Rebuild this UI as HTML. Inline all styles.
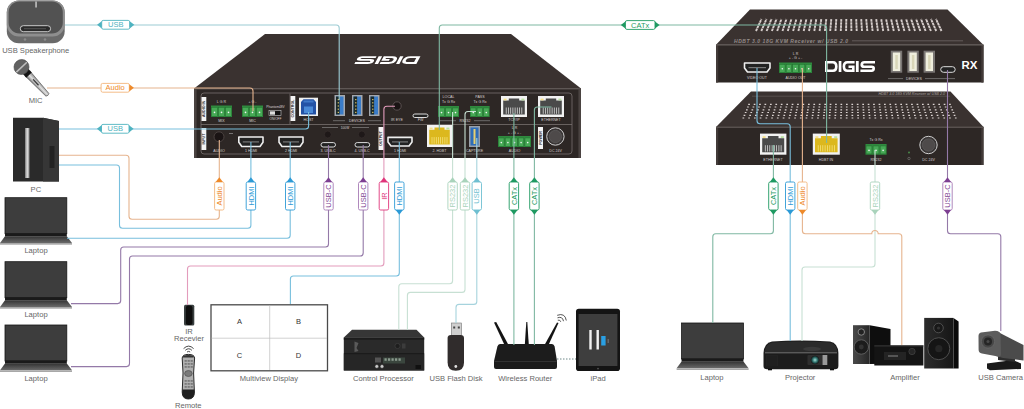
<!DOCTYPE html>
<html><head><meta charset="utf-8"><style>
html,body{margin:0;padding:0;background:#fff;width:1024px;height:409px;overflow:hidden}
svg{display:block;font-family:"Liberation Sans",sans-serif}
</style></head><body>
<svg width="1024" height="409" viewBox="0 0 1024 409">
<rect width="1024" height="409" fill="#fff"/>
<g id="tx">
<polygon points="265,34 511,34 581,88.5 194,88.5" fill="#3a3230"/>
<rect x="194" y="88.5" width="387" height="69.5" fill="#2d2725"/>
<rect x="194" y="88.2" width="387" height="1.2" fill="#5e5654"/>
<rect x="194" y="88.5" width="2.6" height="69.5" fill="#4a4341"/><rect x="578.4" y="88.5" width="2.6" height="69.5" fill="#4a4341"/>
<g transform="translate(387.4 60.05) rotate(180) skewX(-28) scale(1.24 0.7) translate(-25 -5.5)"><path d="M0 0 H8 Q12.6 0 12.6 5.5 Q12.6 11 8 11 H0 Z M2.6 2.6 H7.6 Q10 2.6 10 5.5 Q10 8.4 7.6 8.4 H2.6 Z M13.7 0 H16.4 V11 H13.7 Z M29.6 0 H22.4 Q17.6 0 17.6 5.5 Q17.6 11 22.4 11 H29.6 V4.6 H23.5 V7.0 H27 V8.4 H22.6 Q20.2 8.4 20.2 5.5 Q20.2 2.6 22.6 2.6 H29.6 Z M30.9 0 H33.7 V11 H30.9 Z M50 0 H39.4 Q35.4 0 35.4 3.9 Q35.4 7.0 39 7.0 H46.4 Q47.4 7.0 47.4 7.7 Q47.4 8.4 46.4 8.4 H35.4 V11 H46.6 Q50 11 50 7.2 Q50 4.4 46.6 4.4 H39.2 Q38.2 4.4 38.2 3.5 Q38.2 2.6 39.2 2.6 H50 Z" fill="#fff" fill-rule="evenodd"/></g>
<rect x="201" y="93" width="371" height="61" rx="3" fill="none" stroke="#77706e" stroke-width="0.8"/>
<line x1="201" y1="124.5" x2="572" y2="124.5" stroke="#77706e" stroke-width="0.8"/>
<rect x="201.5" y="97.0" width="4.8" height="24.0" fill="#f4f4f4"/>
<text transform="translate(205.2 109.0) rotate(-90)" font-size="3.6" font-weight="bold" fill="#222" text-anchor="middle">AUDIO IN</text>
<rect x="201.5" y="128.0" width="4.8" height="22.0" fill="#f4f4f4"/>
<text transform="translate(205.2 139.0) rotate(-90)" font-size="3.6" font-weight="bold" fill="#222" text-anchor="middle">INPUT</text>
<rect x="290.3" y="96.0" width="5.0" height="25.0" fill="#f4f4f4"/>
<text transform="translate(294.1 108.5) rotate(-90)" font-size="3.6" font-weight="bold" fill="#222" text-anchor="middle">CONTROL</text>
<rect x="378.5" y="127.0" width="5.0" height="23.0" fill="#f4f4f4"/>
<text transform="translate(382.3 138.5) rotate(-90)" font-size="3.6" font-weight="bold" fill="#222" text-anchor="middle">OUTPUT</text>
<rect x="538.0" y="127.0" width="5.0" height="22.0" fill="#f4f4f4"/>
<text transform="translate(541.8 138.0) rotate(-90)" font-size="3.6" font-weight="bold" fill="#222" text-anchor="middle">POWER</text>
<rect x="211.0" y="105.5" width="21.0" height="11.5" fill="#2f8a3e"/>
<rect x="211.6" y="107.5" width="5.8" height="8.7" fill="#47a956" stroke="#1f6a2c" stroke-width="0.4"/>
<circle cx="214.5" cy="112.4" r="0.8" fill="#f4f4f4"/>
<rect x="218.6" y="107.5" width="5.8" height="8.7" fill="#47a956" stroke="#1f6a2c" stroke-width="0.4"/>
<circle cx="221.5" cy="112.4" r="0.8" fill="#f4f4f4"/>
<rect x="225.6" y="107.5" width="5.8" height="8.7" fill="#47a956" stroke="#1f6a2c" stroke-width="0.4"/>
<circle cx="228.5" cy="112.4" r="0.8" fill="#f4f4f4"/>
<rect x="242.0" y="105.5" width="21.0" height="11.5" fill="#2f8a3e"/>
<rect x="242.6" y="107.5" width="5.8" height="8.7" fill="#47a956" stroke="#1f6a2c" stroke-width="0.4"/>
<circle cx="245.5" cy="112.4" r="0.8" fill="#f4f4f4"/>
<rect x="249.6" y="107.5" width="5.8" height="8.7" fill="#47a956" stroke="#1f6a2c" stroke-width="0.4"/>
<circle cx="252.5" cy="112.4" r="0.8" fill="#f4f4f4"/>
<rect x="256.6" y="107.5" width="5.8" height="8.7" fill="#47a956" stroke="#1f6a2c" stroke-width="0.4"/>
<circle cx="259.5" cy="112.4" r="0.8" fill="#f4f4f4"/>
<text x="221.5" y="103.0" font-size="3.6" fill="#d8d0d0" text-anchor="middle">L  G  R</text>
<text x="252.5" y="103.0" font-size="3.6" fill="#d8d0d0" text-anchor="middle">+  G  -</text>
<text x="221.5" y="121.5" font-size="3.6" fill="#d8d0d0" text-anchor="middle">MIX</text>
<text x="252.5" y="121.5" font-size="3.6" fill="#d8d0d0" text-anchor="middle">MIC</text>
<text x="275.5" y="108.0" font-size="3.2" fill="#d8d0d0" text-anchor="middle">Phantom48V</text>
<rect x="269" y="110.5" width="12" height="5" fill="#111" stroke="#ccc" stroke-width="0.6"/><rect x="270" y="111.3" width="5" height="3.4" fill="#ddd"/>
<text x="275.5" y="120.0" font-size="3.2" fill="#d8d0d0" text-anchor="middle">ON/OFF</text>
<rect x="299" y="97.7" width="19" height="18.3" fill="#f0f0f0"/>
<path d="M301 114.5 L301 102 L303.5 99.3 L313.5 99.3 L316 102 L316 114.5 Z" fill="#2352a6"/>
<rect x="303.5" y="100.5" width="10" height="2" fill="#3f78c8"/>
<rect x="304" y="106.5" width="9" height="6.5" fill="#4a8ad8"/>
<text x="308.5" y="121.0" font-size="3.6" fill="#d8d0d0" text-anchor="middle">HOST</text>
<line x1="290" y1="93.5" x2="290" y2="124.3" stroke="#77706e" stroke-width="0.8"/>
<rect x="334.5" y="95" width="10.5" height="21" fill="#a4a8ae"/>
<rect x="336.0" y="96.5" width="7.5" height="18" fill="#3a7cc8"/>
<rect x="336.0" y="96.5" width="3.6" height="18" fill="#1c2a2a"/>
<rect x="337.7" y="99.0" width="1.2" height="1.2" fill="#e8d070"/>
<rect x="337.7" y="102.2" width="1.2" height="1.2" fill="#e8d070"/>
<rect x="337.7" y="105.4" width="1.2" height="1.2" fill="#e8d070"/>
<rect x="337.7" y="108.6" width="1.2" height="1.2" fill="#e8d070"/>
<rect x="337.7" y="111.8" width="1.2" height="1.2" fill="#e8d070"/>
<rect x="352.0" y="95" width="10.5" height="21" fill="#a4a8ae"/>
<rect x="353.5" y="96.5" width="7.5" height="18" fill="#3a7cc8"/>
<rect x="353.5" y="96.5" width="3.6" height="18" fill="#1c2a2a"/>
<rect x="355.2" y="99.0" width="1.2" height="1.2" fill="#e8d070"/>
<rect x="355.2" y="102.2" width="1.2" height="1.2" fill="#e8d070"/>
<rect x="355.2" y="105.4" width="1.2" height="1.2" fill="#e8d070"/>
<rect x="355.2" y="108.6" width="1.2" height="1.2" fill="#e8d070"/>
<rect x="355.2" y="111.8" width="1.2" height="1.2" fill="#e8d070"/>
<rect x="369.0" y="95" width="10.5" height="21" fill="#a4a8ae"/>
<rect x="370.5" y="96.5" width="7.5" height="18" fill="#3a7cc8"/>
<rect x="370.5" y="96.5" width="3.6" height="18" fill="#1c2a2a"/>
<rect x="372.2" y="99.0" width="1.2" height="1.2" fill="#e8d070"/>
<rect x="372.2" y="102.2" width="1.2" height="1.2" fill="#e8d070"/>
<rect x="372.2" y="105.4" width="1.2" height="1.2" fill="#e8d070"/>
<rect x="372.2" y="108.6" width="1.2" height="1.2" fill="#e8d070"/>
<rect x="372.2" y="111.8" width="1.2" height="1.2" fill="#e8d070"/>
<line x1="333" y1="120.7" x2="345" y2="120.7" stroke="#aaa" stroke-width="0.5"/><line x1="368" y1="120.7" x2="381" y2="120.7" stroke="#aaa" stroke-width="0.5"/>
<text x="357.0" y="122.0" font-size="3.6" fill="#d8d0d0" text-anchor="middle">DEVICES</text>
<circle cx="397" cy="106" r="4.2" fill="#1a1414" stroke="#5a5050" stroke-width="1"/>
<text x="397.0" y="121.0" font-size="3.6" fill="#d8d0d0" text-anchor="middle">IR EYE</text>
<rect x="413.0" y="114.0" width="15.0" height="3.5" rx="1.8" fill="#222" stroke="#ddd" stroke-width="1"/>
<text x="420.5" y="121.0" font-size="3.6" fill="#d8d0d0" text-anchor="middle">FW</text>
<rect x="438.0" y="106.0" width="21.0" height="11.0" fill="#2f8a3e"/>
<rect x="438.6" y="108.0" width="5.8" height="8.2" fill="#47a956" stroke="#1f6a2c" stroke-width="0.4"/>
<circle cx="441.5" cy="112.6" r="0.8" fill="#f4f4f4"/>
<rect x="445.6" y="108.0" width="5.8" height="8.2" fill="#47a956" stroke="#1f6a2c" stroke-width="0.4"/>
<circle cx="448.5" cy="112.6" r="0.8" fill="#f4f4f4"/>
<rect x="452.6" y="108.0" width="5.8" height="8.2" fill="#47a956" stroke="#1f6a2c" stroke-width="0.4"/>
<circle cx="455.5" cy="112.6" r="0.8" fill="#f4f4f4"/>
<rect x="470.0" y="106.0" width="19.6" height="11.0" fill="#2f8a3e"/>
<rect x="470.6" y="108.0" width="5.3" height="8.2" fill="#47a956" stroke="#1f6a2c" stroke-width="0.4"/>
<circle cx="473.3" cy="112.6" r="0.8" fill="#f4f4f4"/>
<rect x="477.1" y="108.0" width="5.3" height="8.2" fill="#47a956" stroke="#1f6a2c" stroke-width="0.4"/>
<circle cx="479.8" cy="112.6" r="0.8" fill="#f4f4f4"/>
<rect x="483.7" y="108.0" width="5.3" height="8.2" fill="#47a956" stroke="#1f6a2c" stroke-width="0.4"/>
<circle cx="486.3" cy="112.6" r="0.8" fill="#f4f4f4"/>
<text x="448.5" y="98.0" font-size="3.6" fill="#d8d0d0" text-anchor="middle">LOCAL</text>
<text x="480.0" y="98.0" font-size="3.6" fill="#d8d0d0" text-anchor="middle">PASS</text>
<text x="448.5" y="103.0" font-size="3.6" fill="#d8d0d0" text-anchor="middle">Tx G Rx</text>
<text x="480.0" y="103.0" font-size="3.6" fill="#d8d0d0" text-anchor="middle">Tx G Rx</text>
<line x1="440" y1="120.7" x2="456" y2="120.7" stroke="#aaa" stroke-width="0.5"/><line x1="474" y1="120.7" x2="490" y2="120.7" stroke="#aaa" stroke-width="0.5"/>
<text x="465.0" y="122.0" font-size="3.6" fill="#d8d0d0" text-anchor="middle">RS232</text>
<rect x="501.0" y="96.0" width="26.0" height="21.0" fill="#f2f2f2"/>
<path d="M503.2 100.6 H508.8 V98.5 H519.2 V100.6 H524.8 V114.5 H503.2 V100.6 H503.2 Z" fill="#4a4a4a"/>
<rect x="505.8" y="107.5" width="0.8" height="6.3" fill="#d8d8d8"/>
<rect x="508.0" y="107.5" width="0.8" height="6.3" fill="#d8d8d8"/>
<rect x="510.3" y="107.5" width="0.8" height="6.3" fill="#d8d8d8"/>
<rect x="512.5" y="107.5" width="0.8" height="6.3" fill="#d8d8d8"/>
<rect x="514.7" y="107.5" width="0.8" height="6.3" fill="#d8d8d8"/>
<rect x="516.9" y="107.5" width="0.8" height="6.3" fill="#d8d8d8"/>
<rect x="519.2" y="107.5" width="0.8" height="6.3" fill="#d8d8d8"/>
<rect x="521.4" y="107.5" width="0.8" height="6.3" fill="#d8d8d8"/>
<rect x="503.6" y="98.6" width="3" height="1.8" fill="#f5e08a"/>
<rect x="521.4" y="98.6" width="3" height="1.8" fill="#b8e0a0"/>
<rect x="538.0" y="96.0" width="26.0" height="21.0" fill="#f2f2f2"/>
<path d="M540.2 100.6 H545.8 V98.5 H556.2 V100.6 H561.8 V114.5 H540.2 V100.6 H540.2 Z" fill="#4a4a4a"/>
<rect x="542.8" y="107.5" width="0.8" height="6.3" fill="#d8d8d8"/>
<rect x="545.0" y="107.5" width="0.8" height="6.3" fill="#d8d8d8"/>
<rect x="547.3" y="107.5" width="0.8" height="6.3" fill="#d8d8d8"/>
<rect x="549.5" y="107.5" width="0.8" height="6.3" fill="#d8d8d8"/>
<rect x="551.7" y="107.5" width="0.8" height="6.3" fill="#d8d8d8"/>
<rect x="553.9" y="107.5" width="0.8" height="6.3" fill="#d8d8d8"/>
<rect x="556.2" y="107.5" width="0.8" height="6.3" fill="#d8d8d8"/>
<rect x="558.4" y="107.5" width="0.8" height="6.3" fill="#d8d8d8"/>
<rect x="540.6" y="98.6" width="3" height="1.8" fill="#f5e08a"/>
<rect x="558.4" y="98.6" width="3" height="1.8" fill="#b8e0a0"/>
<text x="514.0" y="121.0" font-size="3.6" fill="#d8d0d0" text-anchor="middle">TCP/IP</text>
<text x="551.0" y="121.0" font-size="3.6" fill="#d8d0d0" text-anchor="middle">ETHERNET</text>
<circle cx="219" cy="136.8" r="5" fill="#1a1414" stroke="#4a4240" stroke-width="1"/>
<line x1="229" y1="133.5" x2="233" y2="133.5" stroke="#aaa" stroke-width="0.6"/>
<text x="219.0" y="151.5" font-size="3.6" fill="#d8d0d0" text-anchor="middle">AUDIO</text>
<path d="M238.8 137.0 L263.0 137.0 L263.0 142.2 L260.0 146.5 L241.8 146.5 L238.8 142.2 Z" fill="#222" stroke="#eee" stroke-width="1.6" stroke-linejoin="round"/>
<rect x="242.8" y="141.3" width="16.2" height="1.2" fill="#777"/>
<text x="251.0" y="151.5" font-size="3.6" fill="#d8d0d0" text-anchor="middle">1 HDMI</text>
<path d="M279.0 137.0 L303.0 137.0 L303.0 142.2 L300.0 146.5 L282.0 146.5 L279.0 142.2 Z" fill="#222" stroke="#eee" stroke-width="1.6" stroke-linejoin="round"/>
<rect x="283.0" y="141.3" width="16.0" height="1.2" fill="#777"/>
<text x="291.0" y="151.5" font-size="3.6" fill="#d8d0d0" text-anchor="middle">2 HDMI</text>
<circle cx="327.8" cy="134.5" r="3.5" fill="#1e1818" stroke="#3a3230" stroke-width="0.6"/>
<circle cx="361.8" cy="134.5" r="3.5" fill="#1e1818" stroke="#3a3230" stroke-width="0.6"/>
<rect x="321.0" y="142.6" width="14.5" height="4.4" rx="2.2" fill="#222" stroke="#ddd" stroke-width="1"/>
<rect x="355.0" y="142.6" width="14.7" height="4.4" rx="2.2" fill="#222" stroke="#ddd" stroke-width="1"/>
<text x="328.0" y="151.5" font-size="3.6" fill="#d8d0d0" text-anchor="middle">3. USB-C</text>
<text x="362.0" y="151.5" font-size="3.6" fill="#d8d0d0" text-anchor="middle">4. USB-C</text>
<line x1="322" y1="127.5" x2="338" y2="127.5" stroke="#aaa" stroke-width="0.5"/><line x1="352" y1="127.5" x2="369" y2="127.5" stroke="#aaa" stroke-width="0.5"/>
<text x="345.0" y="129.0" font-size="3.2" fill="#d8d0d0" text-anchor="middle">100W</text>
<path d="M388.0 137.4 L412.0 137.4 L412.0 142.1 L409.0 146.0 L391.0 146.0 L388.0 142.1 Z" fill="#222" stroke="#eee" stroke-width="1.6" stroke-linejoin="round"/>
<rect x="392.0" y="141.3" width="16.0" height="1.2" fill="#777"/>
<text x="400.0" y="151.5" font-size="3.6" fill="#d8d0d0" text-anchor="middle">1 HDMI</text>
<rect x="427.0" y="125.0" width="25.0" height="22.0" fill="#f2f2f2"/>
<path d="M429.2 129.8 H434.5 V127.5 H444.5 V129.8 H449.8 V144.5 H429.2 V129.8 H429.2 Z" fill="#dcb81e"/>
<rect x="431.6" y="137.1" width="0.8" height="6.6" fill="#f5e27a"/>
<rect x="433.7" y="137.1" width="0.8" height="6.6" fill="#f5e27a"/>
<rect x="435.9" y="137.1" width="0.8" height="6.6" fill="#f5e27a"/>
<rect x="438.0" y="137.1" width="0.8" height="6.6" fill="#f5e27a"/>
<rect x="440.2" y="137.1" width="0.8" height="6.6" fill="#f5e27a"/>
<rect x="442.3" y="137.1" width="0.8" height="6.6" fill="#f5e27a"/>
<rect x="444.5" y="137.1" width="0.8" height="6.6" fill="#f5e27a"/>
<rect x="446.6" y="137.1" width="0.8" height="6.6" fill="#f5e27a"/>
<rect x="429.6" y="127.6" width="3" height="1.8" fill="#f5e08a"/>
<rect x="446.4" y="127.6" width="3" height="1.8" fill="#b8e0a0"/>
<text x="439.5" y="151.5" font-size="3.6" fill="#d8d0d0" text-anchor="middle">2. HDBT</text>
<rect x="469" y="126" width="11" height="21" fill="#9aa0a8"/><rect x="470.5" y="127.5" width="8" height="18" fill="#2e6db8"/><rect x="473.5" y="129" width="2" height="15" fill="#e8d070"/>
<text x="474.5" y="151.5" font-size="3.6" fill="#d8d0d0" text-anchor="middle">CAPTURE</text>
<rect x="498.0" y="136.0" width="33.0" height="11.0" fill="#2f8a3e"/>
<rect x="498.6" y="138.0" width="5.4" height="8.2" fill="#47a956" stroke="#1f6a2c" stroke-width="0.4"/>
<circle cx="501.3" cy="142.6" r="0.8" fill="#f4f4f4"/>
<rect x="505.2" y="138.0" width="5.4" height="8.2" fill="#47a956" stroke="#1f6a2c" stroke-width="0.4"/>
<circle cx="507.9" cy="142.6" r="0.8" fill="#f4f4f4"/>
<rect x="511.8" y="138.0" width="5.4" height="8.2" fill="#47a956" stroke="#1f6a2c" stroke-width="0.4"/>
<circle cx="514.5" cy="142.6" r="0.8" fill="#f4f4f4"/>
<rect x="518.4" y="138.0" width="5.4" height="8.2" fill="#47a956" stroke="#1f6a2c" stroke-width="0.4"/>
<circle cx="521.1" cy="142.6" r="0.8" fill="#f4f4f4"/>
<rect x="525.0" y="138.0" width="5.4" height="8.2" fill="#47a956" stroke="#1f6a2c" stroke-width="0.4"/>
<circle cx="527.7" cy="142.6" r="0.8" fill="#f4f4f4"/>
<text x="514.5" y="151.5" font-size="3.6" fill="#d8d0d0" text-anchor="middle">AUDIO</text>
<text x="514.5" y="129.0" font-size="3.6" fill="#d8d0d0" text-anchor="middle">L      R</text>
<text x="514.5" y="133.5" font-size="3.6" fill="#d8d0d0" text-anchor="middle">+ - G + -</text>
<circle cx="555.4" cy="136.5" r="8.7" fill="#3a3636" stroke="#cfcfcf" stroke-width="1"/><circle cx="555.4" cy="136.5" r="6.2" fill="#4e4a4a" stroke="#666" stroke-width="0.5"/>
<text x="555.6" y="151.5" font-size="3.6" fill="#d8d0d0" text-anchor="middle">DC 24V</text>
</g>
<g id="rx">
<polygon points="750,9.6 947.5,9.6 983.3,44.8 716,44.8" fill="#3a3230"/>
<rect x="716" y="44.8" width="267.5" height="37.7" fill="#2d2725"/>
<rect x="716" y="44.8" width="2.2" height="37.7" fill="#433b39"/><rect x="981.3" y="44.8" width="2.2" height="37.7" fill="#433b39"/>
<rect x="716" y="44.4" width="267.5" height="1.2" fill="#5e5654"/>
<line x1="756.0" y1="31" x2="761.5" y2="19" stroke="#d6cecc" stroke-width="1.9" stroke-dasharray="2.6 0.5"/>
<line x1="761.3" y1="31" x2="766.5" y2="19" stroke="#d6cecc" stroke-width="1.9" stroke-dasharray="2.6 0.5"/>
<line x1="766.6" y1="31" x2="771.5" y2="19" stroke="#d6cecc" stroke-width="1.9" stroke-dasharray="2.6 0.5"/>
<line x1="771.9" y1="31" x2="776.5" y2="19" stroke="#d6cecc" stroke-width="1.9" stroke-dasharray="2.6 0.5"/>
<line x1="777.2" y1="31" x2="781.4" y2="19" stroke="#d6cecc" stroke-width="1.9" stroke-dasharray="2.6 0.5"/>
<line x1="782.5" y1="31" x2="786.4" y2="19" stroke="#d6cecc" stroke-width="1.9" stroke-dasharray="2.6 0.5"/>
<line x1="787.8" y1="31" x2="791.4" y2="19" stroke="#d6cecc" stroke-width="1.9" stroke-dasharray="2.6 0.5"/>
<line x1="793.1" y1="31" x2="796.4" y2="19" stroke="#d6cecc" stroke-width="1.9" stroke-dasharray="2.6 0.5"/>
<line x1="798.4" y1="31" x2="801.4" y2="19" stroke="#d6cecc" stroke-width="1.9" stroke-dasharray="2.6 0.5"/>
<line x1="803.7" y1="31" x2="806.4" y2="19" stroke="#d6cecc" stroke-width="1.9" stroke-dasharray="2.6 0.5"/>
<line x1="809.0" y1="31" x2="811.4" y2="19" stroke="#d6cecc" stroke-width="1.9" stroke-dasharray="2.6 0.5"/>
<line x1="814.3" y1="31" x2="816.3" y2="19" stroke="#d6cecc" stroke-width="1.9" stroke-dasharray="2.6 0.5"/>
<line x1="819.6" y1="31" x2="821.3" y2="19" stroke="#d6cecc" stroke-width="1.9" stroke-dasharray="2.6 0.5"/>
<line x1="824.9" y1="31" x2="826.3" y2="19" stroke="#d6cecc" stroke-width="1.9" stroke-dasharray="2.6 0.5"/>
<line x1="830.2" y1="31" x2="831.3" y2="19" stroke="#d6cecc" stroke-width="1.9" stroke-dasharray="2.6 0.5"/>
<line x1="835.5" y1="31" x2="836.3" y2="19" stroke="#d6cecc" stroke-width="1.9" stroke-dasharray="2.6 0.5"/>
<line x1="840.8" y1="31" x2="841.3" y2="19" stroke="#d6cecc" stroke-width="1.9" stroke-dasharray="2.6 0.5"/>
<line x1="846.1" y1="31" x2="846.3" y2="19" stroke="#d6cecc" stroke-width="1.9" stroke-dasharray="2.6 0.5"/>
<line x1="851.4" y1="31" x2="851.2" y2="19" stroke="#d6cecc" stroke-width="1.9" stroke-dasharray="2.6 0.5"/>
<line x1="856.7" y1="31" x2="856.2" y2="19" stroke="#d6cecc" stroke-width="1.9" stroke-dasharray="2.6 0.5"/>
<line x1="862.0" y1="31" x2="861.2" y2="19" stroke="#d6cecc" stroke-width="1.9" stroke-dasharray="2.6 0.5"/>
<line x1="867.3" y1="31" x2="866.2" y2="19" stroke="#d6cecc" stroke-width="1.9" stroke-dasharray="2.6 0.5"/>
<line x1="872.6" y1="31" x2="871.2" y2="19" stroke="#d6cecc" stroke-width="1.9" stroke-dasharray="2.6 0.5"/>
<line x1="877.9" y1="31" x2="876.2" y2="19" stroke="#d6cecc" stroke-width="1.9" stroke-dasharray="2.6 0.5"/>
<line x1="883.2" y1="31" x2="881.2" y2="19" stroke="#d6cecc" stroke-width="1.9" stroke-dasharray="2.6 0.5"/>
<line x1="888.5" y1="31" x2="886.1" y2="19" stroke="#d6cecc" stroke-width="1.9" stroke-dasharray="2.6 0.5"/>
<line x1="893.8" y1="31" x2="891.1" y2="19" stroke="#d6cecc" stroke-width="1.9" stroke-dasharray="2.6 0.5"/>
<line x1="899.1" y1="31" x2="896.1" y2="19" stroke="#d6cecc" stroke-width="1.9" stroke-dasharray="2.6 0.5"/>
<line x1="904.4" y1="31" x2="901.1" y2="19" stroke="#d6cecc" stroke-width="1.9" stroke-dasharray="2.6 0.5"/>
<line x1="909.7" y1="31" x2="906.1" y2="19" stroke="#d6cecc" stroke-width="1.9" stroke-dasharray="2.6 0.5"/>
<line x1="915.0" y1="31" x2="911.1" y2="19" stroke="#d6cecc" stroke-width="1.9" stroke-dasharray="2.6 0.5"/>
<line x1="920.3" y1="31" x2="916.1" y2="19" stroke="#d6cecc" stroke-width="1.9" stroke-dasharray="2.6 0.5"/>
<line x1="925.6" y1="31" x2="921.0" y2="19" stroke="#d6cecc" stroke-width="1.9" stroke-dasharray="2.6 0.5"/>
<line x1="930.9" y1="31" x2="926.0" y2="19" stroke="#d6cecc" stroke-width="1.9" stroke-dasharray="2.6 0.5"/>
<line x1="936.2" y1="31" x2="931.0" y2="19" stroke="#d6cecc" stroke-width="1.9" stroke-dasharray="2.6 0.5"/>
<line x1="941.5" y1="31" x2="936.0" y2="19" stroke="#d6cecc" stroke-width="1.9" stroke-dasharray="2.6 0.5"/>
<text x="734" y="42.6" font-size="5" font-weight="bold" font-style="italic" letter-spacing="0.55" fill="#948c8a">HDBT 3.0 18G KVM Receiver w/ USB 2.0</text>
<line x1="852" y1="40.8" x2="963" y2="40.8" stroke="#6e6664" stroke-width="0.8"/>
<path d="M744.5 63.0 L770.0 63.0 L770.0 68.0 L767.0 72.0 L747.5 72.0 L744.5 68.0 Z" fill="#222" stroke="#eee" stroke-width="1.6" stroke-linejoin="round"/>
<rect x="748.5" y="67.0" width="17.5" height="1.2" fill="#777"/>
<text x="757.0" y="78.5" font-size="3.6" fill="#d8d0d0" text-anchor="middle">VIDEO OUT</text>
<rect x="779.0" y="62.5" width="33.0" height="10.5" fill="#2f8a3e"/>
<rect x="779.6" y="64.5" width="5.4" height="7.7" fill="#47a956" stroke="#1f6a2c" stroke-width="0.4"/>
<circle cx="782.3" cy="68.8" r="0.8" fill="#f4f4f4"/>
<rect x="786.2" y="64.5" width="5.4" height="7.7" fill="#47a956" stroke="#1f6a2c" stroke-width="0.4"/>
<circle cx="788.9" cy="68.8" r="0.8" fill="#f4f4f4"/>
<rect x="792.8" y="64.5" width="5.4" height="7.7" fill="#47a956" stroke="#1f6a2c" stroke-width="0.4"/>
<circle cx="795.5" cy="68.8" r="0.8" fill="#f4f4f4"/>
<rect x="799.4" y="64.5" width="5.4" height="7.7" fill="#47a956" stroke="#1f6a2c" stroke-width="0.4"/>
<circle cx="802.1" cy="68.8" r="0.8" fill="#f4f4f4"/>
<rect x="806.0" y="64.5" width="5.4" height="7.7" fill="#47a956" stroke="#1f6a2c" stroke-width="0.4"/>
<circle cx="808.7" cy="68.8" r="0.8" fill="#f4f4f4"/>
<text x="795.5" y="78.5" font-size="3.6" fill="#d8d0d0" text-anchor="middle">AUDIO OUT</text>
<text x="795.5" y="54.5" font-size="3.6" fill="#d8d0d0" text-anchor="middle">L     R</text>
<text x="795.5" y="59.0" font-size="3.6" fill="#d8d0d0" text-anchor="middle">+ - G + -</text>
<g transform="translate(825 61)"><path d="M0 0 H8 Q12.6 0 12.6 5.5 Q12.6 11 8 11 H0 Z M2.6 2.6 H7.6 Q10 2.6 10 5.5 Q10 8.4 7.6 8.4 H2.6 Z M13.7 0 H16.4 V11 H13.7 Z M29.6 0 H22.4 Q17.6 0 17.6 5.5 Q17.6 11 22.4 11 H29.6 V4.6 H23.5 V7.0 H27 V8.4 H22.6 Q20.2 8.4 20.2 5.5 Q20.2 2.6 22.6 2.6 H29.6 Z M30.9 0 H33.7 V11 H30.9 Z M50 0 H39.4 Q35.4 0 35.4 3.9 Q35.4 7.0 39 7.0 H46.4 Q47.4 7.0 47.4 7.7 Q47.4 8.4 46.4 8.4 H35.4 V11 H46.6 Q50 11 50 7.2 Q50 4.4 46.6 4.4 H39.2 Q38.2 4.4 38.2 3.5 Q38.2 2.6 39.2 2.6 H50 Z" fill="#fff" fill-rule="evenodd"/></g>
<rect x="890.8" y="50.7" width="11.4" height="22" fill="#7a7674"/>
<rect x="892.8" y="52.5" width="7.4" height="18.5" fill="#efeedd"/>
<rect x="895.3" y="55" width="2.5" height="14" fill="#d9d6b8"/>
<rect x="907.4" y="50.7" width="11.4" height="22" fill="#7a7674"/>
<rect x="909.4" y="52.5" width="7.4" height="18.5" fill="#efeedd"/>
<rect x="911.9" y="55" width="2.5" height="14" fill="#d9d6b8"/>
<rect x="923.6" y="50.7" width="11.4" height="22" fill="#7a7674"/>
<rect x="925.6" y="52.5" width="7.4" height="18.5" fill="#efeedd"/>
<rect x="928.1" y="55" width="2.5" height="14" fill="#d9d6b8"/>
<rect x="940.7" y="66.7" width="14.5" height="5.6" rx="2.8" fill="#222" stroke="#ddd" stroke-width="1"/>
<line x1="888" y1="78.6" x2="903" y2="78.6" stroke="#aaa" stroke-width="0.5"/><line x1="925" y1="78.6" x2="955" y2="78.6" stroke="#aaa" stroke-width="0.5"/>
<text x="914.0" y="79.8" font-size="3.6" fill="#d8d0d0" text-anchor="middle">DEVICES</text>
<text x="969.5" y="68.5" font-size="11.5" font-weight="bold" fill="#fff" text-anchor="middle">RX</text>
<polygon points="751,91.6 950.5,91.6 983.5,127 716,127" fill="#3a3230"/>
<rect x="716" y="127" width="267.5" height="38" fill="#2d2725"/>
<rect x="716" y="127" width="2.2" height="38" fill="#433b39"/><rect x="981.3" y="127" width="2.2" height="38" fill="#433b39"/>
<rect x="716" y="126.6" width="267.5" height="1.3" fill="#5e5654"/>
<line x1="752" y1="96.2" x2="950" y2="96.2" stroke="#6a6260" stroke-width="0.6"/>
<text x="945" y="95" font-size="3.6" font-style="italic" fill="#aaa3a0" text-anchor="end">HDBT 3.0 18G KVM Receiver w/ USB 2.0</text>
<path d="M748.2 103.8h1.7v1.1h-1.7z M753.7 103.8h1.7v1.1h-1.7z M759.1 103.8h1.7v1.1h-1.7z M764.5 103.8h1.7v1.1h-1.7z M770.0 103.8h1.7v1.1h-1.7z M775.4 103.8h1.7v1.1h-1.7z M780.8 103.8h1.7v1.1h-1.7z M786.3 103.8h1.7v1.1h-1.7z M791.7 103.8h1.7v1.1h-1.7z M797.1 103.8h1.7v1.1h-1.7z M802.5 103.8h1.7v1.1h-1.7z M808.0 103.8h1.7v1.1h-1.7z M813.4 103.8h1.7v1.1h-1.7z M818.8 103.8h1.7v1.1h-1.7z M824.3 103.8h1.7v1.1h-1.7z M829.7 103.8h1.7v1.1h-1.7z M835.1 103.8h1.7v1.1h-1.7z M840.5 103.8h1.7v1.1h-1.7z M846.0 103.8h1.7v1.1h-1.7z M851.4 103.8h1.7v1.1h-1.7z M856.8 103.8h1.7v1.1h-1.7z M862.3 103.8h1.7v1.1h-1.7z M867.7 103.8h1.7v1.1h-1.7z M873.1 103.8h1.7v1.1h-1.7z M878.6 103.8h1.7v1.1h-1.7z M884.0 103.8h1.7v1.1h-1.7z M889.4 103.8h1.7v1.1h-1.7z M894.8 103.8h1.7v1.1h-1.7z M900.3 103.8h1.7v1.1h-1.7z M905.7 103.8h1.7v1.1h-1.7z M911.1 103.8h1.7v1.1h-1.7z M916.6 103.8h1.7v1.1h-1.7z M922.0 103.8h1.7v1.1h-1.7z M927.4 103.8h1.7v1.1h-1.7z M932.8 103.8h1.7v1.1h-1.7z M938.3 103.8h1.7v1.1h-1.7z M943.7 103.8h1.7v1.1h-1.7z M949.1 103.8h1.7v1.1h-1.7z M747.1 106.5h1.7v1.1h-1.7z M752.6 106.5h1.7v1.1h-1.7z M758.1 106.5h1.7v1.1h-1.7z M763.6 106.5h1.7v1.1h-1.7z M769.1 106.5h1.7v1.1h-1.7z M774.6 106.5h1.7v1.1h-1.7z M780.0 106.5h1.7v1.1h-1.7z M785.5 106.5h1.7v1.1h-1.7z M791.0 106.5h1.7v1.1h-1.7z M796.5 106.5h1.7v1.1h-1.7z M802.0 106.5h1.7v1.1h-1.7z M807.5 106.5h1.7v1.1h-1.7z M813.0 106.5h1.7v1.1h-1.7z M818.5 106.5h1.7v1.1h-1.7z M824.0 106.5h1.7v1.1h-1.7z M829.5 106.5h1.7v1.1h-1.7z M835.0 106.5h1.7v1.1h-1.7z M840.5 106.5h1.7v1.1h-1.7z M845.9 106.5h1.7v1.1h-1.7z M851.4 106.5h1.7v1.1h-1.7z M856.9 106.5h1.7v1.1h-1.7z M862.4 106.5h1.7v1.1h-1.7z M867.9 106.5h1.7v1.1h-1.7z M873.4 106.5h1.7v1.1h-1.7z M878.9 106.5h1.7v1.1h-1.7z M884.4 106.5h1.7v1.1h-1.7z M889.9 106.5h1.7v1.1h-1.7z M895.4 106.5h1.7v1.1h-1.7z M900.9 106.5h1.7v1.1h-1.7z M906.3 106.5h1.7v1.1h-1.7z M911.8 106.5h1.7v1.1h-1.7z M917.3 106.5h1.7v1.1h-1.7z M922.8 106.5h1.7v1.1h-1.7z M928.3 106.5h1.7v1.1h-1.7z M933.8 106.5h1.7v1.1h-1.7z M939.3 106.5h1.7v1.1h-1.7z M944.8 106.5h1.7v1.1h-1.7z M950.3 106.5h1.7v1.1h-1.7z M746.0 109.3h1.7v1.1h-1.7z M751.5 109.3h1.7v1.1h-1.7z M757.1 109.3h1.7v1.1h-1.7z M762.6 109.3h1.7v1.1h-1.7z M768.2 109.3h1.7v1.1h-1.7z M773.7 109.3h1.7v1.1h-1.7z M779.3 109.3h1.7v1.1h-1.7z M784.8 109.3h1.7v1.1h-1.7z M790.4 109.3h1.7v1.1h-1.7z M795.9 109.3h1.7v1.1h-1.7z M801.5 109.3h1.7v1.1h-1.7z M807.0 109.3h1.7v1.1h-1.7z M812.6 109.3h1.7v1.1h-1.7z M818.1 109.3h1.7v1.1h-1.7z M823.7 109.3h1.7v1.1h-1.7z M829.3 109.3h1.7v1.1h-1.7z M834.8 109.3h1.7v1.1h-1.7z M840.4 109.3h1.7v1.1h-1.7z M845.9 109.3h1.7v1.1h-1.7z M851.5 109.3h1.7v1.1h-1.7z M857.0 109.3h1.7v1.1h-1.7z M862.6 109.3h1.7v1.1h-1.7z M868.1 109.3h1.7v1.1h-1.7z M873.7 109.3h1.7v1.1h-1.7z M879.2 109.3h1.7v1.1h-1.7z M884.8 109.3h1.7v1.1h-1.7z M890.3 109.3h1.7v1.1h-1.7z M895.9 109.3h1.7v1.1h-1.7z M901.4 109.3h1.7v1.1h-1.7z M907.0 109.3h1.7v1.1h-1.7z M912.6 109.3h1.7v1.1h-1.7z M918.1 109.3h1.7v1.1h-1.7z M923.7 109.3h1.7v1.1h-1.7z M929.2 109.3h1.7v1.1h-1.7z M934.8 109.3h1.7v1.1h-1.7z M940.3 109.3h1.7v1.1h-1.7z M945.9 109.3h1.7v1.1h-1.7z M951.4 109.3h1.7v1.1h-1.7z M744.8 112.0h1.7v1.1h-1.7z M750.4 112.0h1.7v1.1h-1.7z M756.0 112.0h1.7v1.1h-1.7z M761.6 112.0h1.7v1.1h-1.7z M767.3 112.0h1.7v1.1h-1.7z M772.9 112.0h1.7v1.1h-1.7z M778.5 112.0h1.7v1.1h-1.7z M784.1 112.0h1.7v1.1h-1.7z M789.7 112.0h1.7v1.1h-1.7z M795.3 112.0h1.7v1.1h-1.7z M801.0 112.0h1.7v1.1h-1.7z M806.6 112.0h1.7v1.1h-1.7z M812.2 112.0h1.7v1.1h-1.7z M817.8 112.0h1.7v1.1h-1.7z M823.4 112.0h1.7v1.1h-1.7z M829.0 112.0h1.7v1.1h-1.7z M834.7 112.0h1.7v1.1h-1.7z M840.3 112.0h1.7v1.1h-1.7z M845.9 112.0h1.7v1.1h-1.7z M851.5 112.0h1.7v1.1h-1.7z M857.1 112.0h1.7v1.1h-1.7z M862.7 112.0h1.7v1.1h-1.7z M868.3 112.0h1.7v1.1h-1.7z M874.0 112.0h1.7v1.1h-1.7z M879.6 112.0h1.7v1.1h-1.7z M885.2 112.0h1.7v1.1h-1.7z M890.8 112.0h1.7v1.1h-1.7z M896.4 112.0h1.7v1.1h-1.7z M902.0 112.0h1.7v1.1h-1.7z M907.7 112.0h1.7v1.1h-1.7z M913.3 112.0h1.7v1.1h-1.7z M918.9 112.0h1.7v1.1h-1.7z M924.5 112.0h1.7v1.1h-1.7z M930.1 112.0h1.7v1.1h-1.7z M935.7 112.0h1.7v1.1h-1.7z M941.3 112.0h1.7v1.1h-1.7z M947.0 112.0h1.7v1.1h-1.7z M952.6 112.0h1.7v1.1h-1.7z M743.6 114.8h1.7v1.1h-1.7z M749.3 114.8h1.7v1.1h-1.7z M755.0 114.8h1.7v1.1h-1.7z M760.7 114.8h1.7v1.1h-1.7z M766.4 114.8h1.7v1.1h-1.7z M772.0 114.8h1.7v1.1h-1.7z M777.7 114.8h1.7v1.1h-1.7z M783.4 114.8h1.7v1.1h-1.7z M789.1 114.8h1.7v1.1h-1.7z M794.8 114.8h1.7v1.1h-1.7z M800.4 114.8h1.7v1.1h-1.7z M806.1 114.8h1.7v1.1h-1.7z M811.8 114.8h1.7v1.1h-1.7z M817.5 114.8h1.7v1.1h-1.7z M823.1 114.8h1.7v1.1h-1.7z M828.8 114.8h1.7v1.1h-1.7z M834.5 114.8h1.7v1.1h-1.7z M840.2 114.8h1.7v1.1h-1.7z M845.9 114.8h1.7v1.1h-1.7z M851.5 114.8h1.7v1.1h-1.7z M857.2 114.8h1.7v1.1h-1.7z M862.9 114.8h1.7v1.1h-1.7z M868.6 114.8h1.7v1.1h-1.7z M874.2 114.8h1.7v1.1h-1.7z M879.9 114.8h1.7v1.1h-1.7z M885.6 114.8h1.7v1.1h-1.7z M891.3 114.8h1.7v1.1h-1.7z M897.0 114.8h1.7v1.1h-1.7z M902.6 114.8h1.7v1.1h-1.7z M908.3 114.8h1.7v1.1h-1.7z M914.0 114.8h1.7v1.1h-1.7z M919.7 114.8h1.7v1.1h-1.7z M925.3 114.8h1.7v1.1h-1.7z M931.0 114.8h1.7v1.1h-1.7z M936.7 114.8h1.7v1.1h-1.7z M942.4 114.8h1.7v1.1h-1.7z M948.1 114.8h1.7v1.1h-1.7z M953.7 114.8h1.7v1.1h-1.7z M742.5 117.5h1.7v1.1h-1.7z M748.2 117.5h1.7v1.1h-1.7z M754.0 117.5h1.7v1.1h-1.7z M759.7 117.5h1.7v1.1h-1.7z M765.5 117.5h1.7v1.1h-1.7z M771.2 117.5h1.7v1.1h-1.7z M776.9 117.5h1.7v1.1h-1.7z M782.7 117.5h1.7v1.1h-1.7z M788.4 117.5h1.7v1.1h-1.7z M794.2 117.5h1.7v1.1h-1.7z M799.9 117.5h1.7v1.1h-1.7z M805.6 117.5h1.7v1.1h-1.7z M811.4 117.5h1.7v1.1h-1.7z M817.1 117.5h1.7v1.1h-1.7z M822.9 117.5h1.7v1.1h-1.7z M828.6 117.5h1.7v1.1h-1.7z M834.3 117.5h1.7v1.1h-1.7z M840.1 117.5h1.7v1.1h-1.7z M845.8 117.5h1.7v1.1h-1.7z M851.6 117.5h1.7v1.1h-1.7z M857.3 117.5h1.7v1.1h-1.7z M863.0 117.5h1.7v1.1h-1.7z M868.8 117.5h1.7v1.1h-1.7z M874.5 117.5h1.7v1.1h-1.7z M880.3 117.5h1.7v1.1h-1.7z M886.0 117.5h1.7v1.1h-1.7z M891.7 117.5h1.7v1.1h-1.7z M897.5 117.5h1.7v1.1h-1.7z M903.2 117.5h1.7v1.1h-1.7z M909.0 117.5h1.7v1.1h-1.7z M914.7 117.5h1.7v1.1h-1.7z M920.4 117.5h1.7v1.1h-1.7z M926.2 117.5h1.7v1.1h-1.7z M931.9 117.5h1.7v1.1h-1.7z M937.7 117.5h1.7v1.1h-1.7z M943.4 117.5h1.7v1.1h-1.7z M949.1 117.5h1.7v1.1h-1.7z M954.9 117.5h1.7v1.1h-1.7z" fill="#ddd5d3"/>
<rect x="760.0" y="133.6" width="26.4" height="21.1" fill="#f2f2f2"/>
<path d="M762.2 138.2 H767.9 V136.1 H778.5 V138.2 H784.2 V152.2 H762.2 V138.2 H762.2 Z" fill="#4a4a4a"/>
<rect x="764.9" y="145.2" width="0.8" height="6.3" fill="#d8d8d8"/>
<rect x="767.1" y="145.2" width="0.8" height="6.3" fill="#d8d8d8"/>
<rect x="769.4" y="145.2" width="0.8" height="6.3" fill="#d8d8d8"/>
<rect x="771.7" y="145.2" width="0.8" height="6.3" fill="#d8d8d8"/>
<rect x="773.9" y="145.2" width="0.8" height="6.3" fill="#d8d8d8"/>
<rect x="776.2" y="145.2" width="0.8" height="6.3" fill="#d8d8d8"/>
<rect x="778.5" y="145.2" width="0.8" height="6.3" fill="#d8d8d8"/>
<rect x="780.7" y="145.2" width="0.8" height="6.3" fill="#d8d8d8"/>
<rect x="762.6" y="136.2" width="3" height="1.8" fill="#f5e08a"/>
<rect x="780.8" y="136.2" width="3" height="1.8" fill="#b8e0a0"/>
<text x="773.0" y="161.0" font-size="3.6" fill="#d8d0d0" text-anchor="middle">ETHERNET</text>
<rect x="812.8" y="133.6" width="27.0" height="21.1" fill="#f2f2f2"/>
<path d="M815.0 138.2 H820.9 V136.1 H831.7 V138.2 H837.6 V152.2 H815.0 V138.2 H815.0 Z" fill="#dcb81e"/>
<rect x="817.8" y="145.2" width="0.8" height="6.3" fill="#f5e27a"/>
<rect x="820.1" y="145.2" width="0.8" height="6.3" fill="#f5e27a"/>
<rect x="822.4" y="145.2" width="0.8" height="6.3" fill="#f5e27a"/>
<rect x="824.7" y="145.2" width="0.8" height="6.3" fill="#f5e27a"/>
<rect x="827.1" y="145.2" width="0.8" height="6.3" fill="#f5e27a"/>
<rect x="829.4" y="145.2" width="0.8" height="6.3" fill="#f5e27a"/>
<rect x="831.7" y="145.2" width="0.8" height="6.3" fill="#f5e27a"/>
<rect x="834.0" y="145.2" width="0.8" height="6.3" fill="#f5e27a"/>
<rect x="815.4" y="136.2" width="3" height="1.8" fill="#f5e08a"/>
<rect x="834.2" y="136.2" width="3" height="1.8" fill="#b8e0a0"/>
<text x="826.0" y="161.0" font-size="3.6" fill="#d8d0d0" text-anchor="middle">HDBT IN</text>
<rect x="865.5" y="144.0" width="21.1" height="10.7" fill="#2f8a3e"/>
<rect x="866.1" y="146.0" width="5.8" height="7.9" fill="#47a956" stroke="#1f6a2c" stroke-width="0.4"/>
<circle cx="869.0" cy="150.4" r="0.8" fill="#f4f4f4"/>
<rect x="873.1" y="146.0" width="5.8" height="7.9" fill="#47a956" stroke="#1f6a2c" stroke-width="0.4"/>
<circle cx="876.0" cy="150.4" r="0.8" fill="#f4f4f4"/>
<rect x="880.2" y="146.0" width="5.8" height="7.9" fill="#47a956" stroke="#1f6a2c" stroke-width="0.4"/>
<circle cx="883.1" cy="150.4" r="0.8" fill="#f4f4f4"/>
<text x="876.0" y="161.0" font-size="3.6" fill="#d8d0d0" text-anchor="middle">RS232</text>
<text x="876.0" y="141.0" font-size="3.6" fill="#d8d0d0" text-anchor="middle">Tx G Rx</text>
<circle cx="909" cy="152.5" r="1" fill="#4a8a4a"/><circle cx="909" cy="158.5" r="1.2" fill="none" stroke="#888" stroke-width="0.5"/>
<circle cx="928.5" cy="145" r="8.7" fill="#3a3636" stroke="#cfcfcf" stroke-width="1"/><circle cx="928.5" cy="145" r="6.2" fill="#4e4a4a" stroke="#666" stroke-width="0.5"/>
<text x="928.5" y="161.0" font-size="3.6" fill="#d8d0d0" text-anchor="middle">DC 24V</text>
</g>
<defs><linearGradient id="silv" x1="0" y1="0" x2="1" y2="0"><stop offset="0" stop-color="#777"/><stop offset="0.5" stop-color="#e0e0e0"/><stop offset="1" stop-color="#888"/></linearGradient><linearGradient id="spk" x1="0" y1="0" x2="0" y2="1"><stop offset="0" stop-color="#4e4e4e"/><stop offset="1" stop-color="#5e5e5e"/></linearGradient><radialGradient id="lens" cx="0.5" cy="0.5" r="0.5"><stop offset="0" stop-color="#9fe0d8"/><stop offset="0.6" stop-color="#2a6a66"/><stop offset="1" stop-color="#111"/></radialGradient><linearGradient id="lbase" x1="0" y1="0" x2="0" y2="1"><stop offset="0" stop-color="#333"/><stop offset="1" stop-color="#6a6a6a"/></linearGradient></defs>
<rect x="6.8" y="0.6" width="57.9" height="42.7" rx="12" fill="#6a6a6a"/>
<rect x="6.8" y="0.6" width="57.9" height="36" rx="12" fill="#8e8e8e"/>
<rect x="8.6" y="1.4" width="54.2" height="32" rx="11" fill="#525252"/>
<rect x="35.3" y="1.5" width="1.5" height="6" fill="#c8c8c8"/>
<rect x="20.3" y="25.7" width="30.3" height="6" rx="3" fill="#2a2a2a" stroke="#c9c9c9" stroke-width="1"/>
<rect x="24" y="28.2" width="22" height="1" fill="#555"/>
<circle cx="25" cy="39.5" r="1.3" fill="#8a8a8a"/><circle cx="45" cy="39.5" r="1.3" fill="#8a8a8a"/>
<g transform="translate(21.5 67) rotate(-43)"><path d="M-3.4 9 L3.4 9 L2 38 Q0 39.5 -2 38 Z" fill="url(#silv)" stroke="#4a4a4a" stroke-width="0.6"/><rect x="-0.6" y="17" width="1.2" height="8" fill="#333"/><rect x="-3.8" y="5.5" width="7.6" height="5.5" fill="#141414"/><ellipse cx="0" cy="0" rx="7.6" ry="7.4" fill="#616161" stroke="#4a4a4a" stroke-width="0.6"/><rect x="-7.2" y="-0.6" width="14.4" height="1.6" fill="#bdbdbd"/></g>
<polygon points="13,117.7 43,117.7 59,121 59,181.4 43,181.4 13,181.4" fill="#2a2a2a"/>
<polygon points="43,117.7 59,121 59,181.4 43,181.4" fill="#363636"/>
<rect x="25" y="128" width="4.5" height="50" fill="url(#silv)"/>
<rect x="49.5" y="146" width="5" height="22" fill="#222"/>
<rect x="5.0" y="197.7" width="61.8" height="36" fill="#3d3d3d" stroke="#161616" stroke-width="0.8"/>
<rect x="5.0" y="233.2" width="61.8" height="3.2" fill="#1a1a1a"/>
<polygon points="5.0,236.2 66.8,236.2 72.0,243.0 0.0,243.0" fill="url(#lbase)"/>
<rect x="0.0" y="243.0" width="72" height="1.7" fill="#a8a8a8"/>
<rect x="5.0" y="261.7" width="61.8" height="36" fill="#3d3d3d" stroke="#161616" stroke-width="0.8"/>
<rect x="5.0" y="297.2" width="61.8" height="3.2" fill="#1a1a1a"/>
<polygon points="5.0,300.2 66.8,300.2 72.0,307.0 0.0,307.0" fill="url(#lbase)"/>
<rect x="0.0" y="307.0" width="72" height="1.7" fill="#a8a8a8"/>
<rect x="5.0" y="325.0" width="61.8" height="36" fill="#3d3d3d" stroke="#161616" stroke-width="0.8"/>
<rect x="5.0" y="360.5" width="61.8" height="3.2" fill="#1a1a1a"/>
<polygon points="5.0,363.5 66.8,363.5 72.0,370.3 0.0,370.3" fill="url(#lbase)"/>
<rect x="0.0" y="370.3" width="72" height="1.7" fill="#a8a8a8"/>
<rect x="681.6" y="323.0" width="61.8" height="36" fill="#3d3d3d" stroke="#161616" stroke-width="0.8"/>
<rect x="681.6" y="358.5" width="61.8" height="3.2" fill="#1a1a1a"/>
<polygon points="681.6,361.5 743.4,361.5 748.6,368.3 676.6,368.3" fill="url(#lbase)"/>
<rect x="676.6" y="368.3" width="72" height="1.7" fill="#a8a8a8"/>
<rect x="184" y="304.8" width="10.3" height="20.8" rx="1.5" fill="#3a4040"/>
<rect x="185.8" y="305.5" width="6.7" height="19.5" rx="2.5" fill="#0e0e0e"/>
<path d="M183.6 348.6 Q188.6 343.6 193.6 348.6 M185.3 350.3 Q188.6 347.2 191.9 350.3 M187 352 Q188.6 350.8 190.2 352" fill="none" stroke="#333" stroke-width="0.9"/>
<path d="M182.2 358 Q182.4 354.4 188.3 354.4 Q194.4 354.4 194.6 358 L193.6 373 L194.4 392 Q194.4 399 188.3 399 Q182.2 399 182.2 392 L183 373 Z" fill="#b0b0b0" stroke="#2a2a2a" stroke-width="1"/>
<path d="M182.5 389.5 L194.2 389.5 L194.4 392.5 Q194.4 399 188.3 399 Q182.2 399 182.2 392.5 Z" fill="#1e1e1e"/>
<path d="M183 356 Q188.3 354 193.8 356 L193.6 357.5 L183.1 357.5 Z" fill="#333"/>
<rect x="184.6" y="360.0" width="2.2" height="1.8" fill="#7a7a7a"/>
<rect x="187.6" y="360.0" width="2.2" height="1.8" fill="#7a7a7a"/>
<rect x="190.6" y="360.0" width="2.2" height="1.8" fill="#7a7a7a"/>
<rect x="184.6" y="363.0" width="2.2" height="1.8" fill="#7a7a7a"/>
<rect x="187.6" y="363.0" width="2.2" height="1.8" fill="#7a7a7a"/>
<rect x="190.6" y="363.0" width="2.2" height="1.8" fill="#7a7a7a"/>
<rect x="184.6" y="366.0" width="2.2" height="1.8" fill="#7a7a7a"/>
<rect x="187.6" y="366.0" width="2.2" height="1.8" fill="#7a7a7a"/>
<rect x="190.6" y="366.0" width="2.2" height="1.8" fill="#7a7a7a"/>
<rect x="184.6" y="380.0" width="2.2" height="1.8" fill="#7a7a7a"/>
<rect x="187.6" y="380.0" width="2.2" height="1.8" fill="#7a7a7a"/>
<rect x="190.6" y="380.0" width="2.2" height="1.8" fill="#7a7a7a"/>
<rect x="184.6" y="383.0" width="2.2" height="1.8" fill="#7a7a7a"/>
<rect x="187.6" y="383.0" width="2.2" height="1.8" fill="#7a7a7a"/>
<rect x="190.6" y="383.0" width="2.2" height="1.8" fill="#7a7a7a"/>
<rect x="184.6" y="386.0" width="2.2" height="1.8" fill="#7a7a7a"/>
<rect x="187.6" y="386.0" width="2.2" height="1.8" fill="#7a7a7a"/>
<rect x="190.6" y="386.0" width="2.2" height="1.8" fill="#7a7a7a"/>
<ellipse cx="188.4" cy="373.5" rx="3.8" ry="3" fill="#7a7a7a" stroke="#444" stroke-width="0.6"/>
<rect x="211" y="304.8" width="116.5" height="66" fill="#fff" stroke="#4a4a4a" stroke-width="1.3"/>
<line x1="269.7" y1="305.5" x2="269.7" y2="370" stroke="#bdbdbd" stroke-width="0.7"/><line x1="211.6" y1="338.2" x2="327" y2="338.2" stroke="#bdbdbd" stroke-width="0.7"/>
<text x="239.5" y="324.3" font-size="7.5" fill="#333" text-anchor="middle">A</text>
<text x="298.5" y="324.3" font-size="7.5" fill="#333" text-anchor="middle">B</text>
<text x="239.5" y="357.8" font-size="7.5" fill="#333" text-anchor="middle">C</text>
<text x="298.5" y="357.8" font-size="7.5" fill="#333" text-anchor="middle">D</text>
<polygon points="352,329.7 416.5,329.7 424.2,337.5 343.8,337.5" fill="#363636"/>
<rect x="343.8" y="337.5" width="80.4" height="33" fill="#2a2a2a"/>
<rect x="343.8" y="337.5" width="80.4" height="2.2" fill="#1c1c1c"/>
<rect x="343.8" y="353.3" width="80.4" height="1.2" fill="#161616"/>
<rect x="343.8" y="354.5" width="80.4" height="16" fill="#262626"/>
<path d="M354.5 341.5 L358.5 343 L356.5 348 L358.5 351 L354.5 352 Z" fill="#5a5a5a"/>
<circle cx="397.5" cy="346" r="2.6" fill="#1e1e1e" stroke="#444" stroke-width="0.6"/><rect x="402" y="343.5" width="3.5" height="5" fill="#3c3c3c"/>
<rect x="383" y="357.5" width="22" height="6" fill="#3a463e"/>
<rect x="384.5" y="358.3" width="2.2" height="2.5" fill="#8a9a8e"/>
<rect x="388.0" y="358.3" width="2.2" height="2.5" fill="#8a9a8e"/>
<rect x="391.5" y="358.3" width="2.2" height="2.5" fill="#8a9a8e"/>
<rect x="395.0" y="358.3" width="2.2" height="2.5" fill="#8a9a8e"/>
<rect x="398.5" y="358.3" width="2.2" height="2.5" fill="#8a9a8e"/>
<circle cx="376.8" cy="366.4" r="1.9" fill="#ccc" stroke="#222" stroke-width="0.6"/><circle cx="382" cy="366.4" r="1.9" fill="#ccc" stroke="#222" stroke-width="0.6"/>
<rect x="375" y="357.5" width="6" height="5" fill="#555"/>
<rect x="415.5" y="365" width="5.5" height="4" fill="#111"/>
<rect x="451.3" y="323" width="10.3" height="12.5" fill="#cfcfcf" stroke="#777" stroke-width="0.6"/>
<rect x="453.2" y="326.5" width="2" height="2" fill="#444"/><rect x="457.8" y="326.5" width="2" height="2" fill="#444"/>
<path d="M447.6 338 Q447.6 335 451 335 L460.6 335 Q464 335 464 338 L464 362.5 Q464 370.7 455.8 370.7 Q447.6 370.7 447.6 362.5 Z" fill="#302c2c"/>
<circle cx="455.8" cy="366.5" r="1.4" fill="#e0e0e0"/>
<path d="M494 322.5 L496.2 322 L508.5 345 L504.5 345 Z" fill="#141414"/>
<path d="M526.3 322 L527.3 322 L528.8 345 L524.8 345 Z" fill="#141414"/>
<path d="M557 322.5 L558.5 323 L548.5 345 L544.5 345 Z" fill="#141414"/>
<path d="M500 344 L552 344 Q554 344 554.6 346.5 L557 361 L557 367 Q557 369 555 369 L496 369 Q494 369 494 367 L494 361 L497.4 346.5 Q498 344 500 344 Z" fill="#1c1c1c"/>
<rect x="494.3" y="361" width="62.5" height="0.8" fill="#3a3a3a"/>
<path d="M557.8 320.2 Q560 319.5 560.8 321.8 M557.5 317.8 Q562.5 316 563.5 321.2 M557.2 315.3 Q565 312.5 566.3 320.5" fill="none" stroke="#2a2a2a" stroke-width="0.8"/>
<line x1="557" y1="359" x2="576" y2="359" stroke="#4a6a6a" stroke-width="0.8" stroke-dasharray="1.5 1.5"/>
<rect x="576" y="308.8" width="44" height="62.2" rx="2.8" fill="#141414"/>
<rect x="578.6" y="314" width="38.8" height="52" fill="#3e3e3e"/>
<rect x="589.3" y="330" width="2.4" height="19.5" fill="#f2f2f2"/><rect x="596.5" y="330" width="2.4" height="19.5" fill="#f2f2f2"/>
<rect x="601.2" y="336" width="4.4" height="9.5" fill="#2a9fe2"/><rect x="607.5" y="339" width="1.5" height="4" fill="#666"/>
<circle cx="598" cy="368.6" r="0.9" fill="#555"/>
<path d="M763.5 353 Q764 343 772 341.5 Q800 339.5 830 341.5 Q838 343 838.4 353 L838.4 366 Q838.4 369.3 835 369.3 L767 369.3 Q763.5 369.3 763.5 366 Z" fill="#1c1c1c"/>
<path d="M764.5 352 Q765.5 344 772 342.5 Q800 340.5 830 342.5 Q837 344 837.4 352 Z" fill="#2b2b2b"/>
<path d="M765 352.8 L837 352.8" stroke="#8a8a8a" stroke-width="0.8"/>
<ellipse cx="812" cy="349" rx="9" ry="2.2" fill="#3a3a3a"/>
<rect x="766" y="355.5" width="12" height="10.5" fill="#262626"/>
<line x1="766.5" y1="357.0" x2="777.5" y2="357.0" stroke="#151515" stroke-width="0.7"/>
<line x1="766.5" y1="359.0" x2="777.5" y2="359.0" stroke="#151515" stroke-width="0.7"/>
<line x1="766.5" y1="361.0" x2="777.5" y2="361.0" stroke="#151515" stroke-width="0.7"/>
<line x1="766.5" y1="363.0" x2="777.5" y2="363.0" stroke="#151515" stroke-width="0.7"/>
<line x1="766.5" y1="365.0" x2="777.5" y2="365.0" stroke="#151515" stroke-width="0.7"/>
<rect x="807.5" y="355" width="15" height="10" rx="1" fill="#2e2e2e"/>
<circle cx="815" cy="360" r="4.3" fill="url(#lens)"/>
<rect x="822.5" y="355" width="4.8" height="10" fill="#9a9a9a"/>
<rect x="768" y="368.5" width="4" height="1.8" fill="#111"/><rect x="830" y="368.5" width="4" height="1.8" fill="#111"/>
<polygon points="869.7,325.2 890.5,329 890.5,363.8 869.7,364" fill="#0e0e0e"/>
<defs><linearGradient id="spkf" x1="0" y1="0" x2="1" y2="0"><stop offset="0" stop-color="#4a4a4a"/><stop offset="1" stop-color="#262626"/></linearGradient></defs>
<rect x="853" y="325.2" width="16.7" height="38.8" fill="url(#spkf)"/>
<circle cx="861.3" cy="347" r="7.2" fill="#1c1c1c" stroke="#6a6a6a" stroke-width="0.8"/><circle cx="861.3" cy="347" r="2.4" fill="#333"/>
<circle cx="861.3" cy="332" r="3.2" fill="#222" stroke="#9a9a9a" stroke-width="0.8"/>
<rect x="874.3" y="345.4" width="49.1" height="20.1" fill="#141414"/>
<rect x="874.3" y="345.4" width="49.1" height="1" fill="#3a3a3a"/>
<rect x="884" y="352" width="22" height="8" fill="#242424"/><rect x="888" y="355" width="10" height="2" fill="#555"/><circle cx="912" cy="351.5" r="3.2" fill="#262626" stroke="#4a4a4a" stroke-width="0.6"/>
<polygon points="953.5,317.9 958.6,321.5 958.6,368.5 953.5,368.5" fill="#0a0a0a"/>
<defs><linearGradient id="spkr" x1="0" y1="0" x2="1" y2="0"><stop offset="0" stop-color="#2c2c2c"/><stop offset="1" stop-color="#161616"/></linearGradient></defs>
<rect x="924.2" y="317.9" width="29.3" height="50.6" fill="url(#spkr)"/>
<circle cx="938.8" cy="348.7" r="11" fill="#151515" stroke="#4e4e4e" stroke-width="1"/><circle cx="938.8" cy="348.7" r="3.6" fill="#262626"/>
<circle cx="938.5" cy="328" r="4.8" fill="#181818" stroke="#5a5a5a" stroke-width="0.8"/><circle cx="938.5" cy="328" r="1.6" fill="#333"/>
<polygon points="987,363.5 1013,360 1021,363.5 1021,369 990,370.2 987,368.5" fill="#1a1a1a"/>
<polygon points="998,356 1015,358.5 1015,362 998,360" fill="#2e2e2e"/>
<polygon points="996,331 1023.5,345 1023.5,360.5 1003,358 996,356" fill="#4b4b4b"/>
<path d="M981 332.5 L995 330.8 Q1000 331 1000.5 334 L1001 354 Q1001 357 998 356.6 L982 353.5 Q978.5 353 978.6 349.5 L978.5 336 Q978.5 333 981 332.5 Z" fill="#5c5c5c"/>
<circle cx="988" cy="341.5" r="6.6" fill="#474747" stroke="#6e6e6e" stroke-width="0.6"/><circle cx="988" cy="341.5" r="4" fill="#262626"/><circle cx="988" cy="341.5" r="1.5" fill="#4a4a4a"/>
<path d="M65.0 25.0 L336.2 25.0 Q339.2 25.0 339.2 28.0 L339.2 100.0" fill="none" stroke="#9ccbd3" stroke-width="1.1"/>
<path d="M439.3 130.0 L439.3 28.0 Q439.3 25.0 442.3 25.0 L823.6 25.0 Q826.6 25.0 826.6 28.0 L826.6 143.0" fill="none" stroke="#7fb8a2" stroke-width="1.1"/>
<path d="M47.0 88.0 L250.0 88.0 Q253.0 88.0 253.0 91.0 L253.0 111.0" fill="none" stroke="#e6b48e" stroke-width="1.1"/>
<path d="M59.0 129.0 L305.6 129.0 Q308.6 129.0 308.6 126.0 L308.6 112.0" fill="none" stroke="#78bfdd" stroke-width="1.1"/>
<path d="M59.0 155.3 L126.0 155.3 Q129.0 155.3 129.0 158.3 L129.0 216.3 Q129.0 219.3 132.0 219.3 L216.3 219.3 Q219.3 219.3 219.3 216.3 L219.3 140.0" fill="none" stroke="#e6b48e" stroke-width="1.1"/>
<path d="M59.0 165.0 L116.5 165.0 Q119.5 165.0 119.5 168.0 L119.5 225.2 Q119.5 228.2 122.5 228.2 L247.9 228.2 Q250.9 228.2 250.9 225.2 L250.9 142.0" fill="none" stroke="#78bfdd" stroke-width="1.1"/>
<path d="M67.0 238.3 L287.2 238.3 Q290.2 238.3 290.2 235.3 L290.2 142.0" fill="none" stroke="#78bfdd" stroke-width="1.1"/>
<path d="M71.0 303.6 L117.7 303.6 Q120.7 303.6 120.7 300.6 L120.7 250.0 Q120.7 247.0 123.7 247.0 L325.5 247.0 Q328.5 247.0 328.5 244.0 L328.5 145.0" fill="none" stroke="#9479a8" stroke-width="1.1"/>
<path d="M71.0 366.6 L126.5 366.6 Q129.5 366.6 129.5 363.6 L129.5 259.0 Q129.5 256.0 132.5 256.0 L360.2 256.0 Q363.2 256.0 363.2 253.0 L363.2 145.0" fill="none" stroke="#9479a8" stroke-width="1.1"/>
<path d="M187.5 305.0 L187.5 269.0 Q187.5 266.0 190.5 266.0 L380.9 266.0 Q383.9 266.0 383.9 263.0 L383.9 109.3 Q383.9 106.3 386.9 106.3 L395.0 106.3" fill="none" stroke="#e39cbc" stroke-width="1.1"/>
<path d="M290.4 304.0 L290.4 279.0 Q290.4 276.0 293.4 276.0 L396.3 276.0 Q399.3 276.0 399.3 273.0 L399.3 142.0" fill="none" stroke="#78bfdd" stroke-width="1.1"/>
<path d="M398.8 330.0 L398.8 286.8 Q398.8 283.8 401.8 283.8 L449.6 283.8 Q452.6 283.8 452.6 280.8 L452.6 112.0" fill="none" stroke="#c7e0d3" stroke-width="1.1"/>
<path d="M407.4 330.0 L407.4 295.4 Q407.4 292.4 410.4 292.4 L462.0 292.4 Q465.0 292.4 465.0 289.4 L465.0 114.5 Q465.0 111.5 468.0 111.5 L476.0 111.5" fill="none" stroke="#c7e0d3" stroke-width="1.1"/>
<path d="M456.0 323.0 L456.0 307.4 Q456.0 304.4 459.0 304.4 L473.8 304.4 Q476.8 304.4 476.8 301.4 L476.8 138.0" fill="none" stroke="#a6d3dd" stroke-width="1.1"/>
<path d="M513.9 345.0 L513.9 113.0" fill="none" stroke="#7fb8a2" stroke-width="1.1"/>
<path d="M534.4 345.0 L534.4 110.0 Q534.4 107.0 537.4 107.0 L551.5 107.0" fill="none" stroke="#7fb8a2" stroke-width="1.1"/>
<path d="M757.0 68.0 L757.0 120.8 Q757.0 123.8 760.0 123.8 L787.2 123.8 Q790.2 123.8 790.2 126.8 L790.2 341.0" fill="none" stroke="#78bfdd" stroke-width="1.1"/>
<path d="M802.4 68.0 L802.4 183.0" fill="none" stroke="#e6b48e" stroke-width="1.1"/>
<path d="M773.4 145.0 L773.4 230.7 Q773.4 233.7 770.4 233.7 L715.8 233.7 Q712.8 233.7 712.8 236.7 L712.8 323.0" fill="none" stroke="#7fb8a2" stroke-width="1.1"/>
<path d="M802.0 341.0 L802.0 270.0 Q802.0 267.0 805.0 267.0 L872.0 267.0 Q875.0 267.0 875.0 264.0 L875.0 150.0" fill="none" stroke="#c7e0d3" stroke-width="1.1"/>
<path d="M802.4 205 L802.4 230.7 Q802.4 233.7 805.4 233.7 L871.8 233.7 A3.2 3.2 0 0 1 878.2 233.7 L898.8 233.7 Q901.8 233.7 901.8 236.7 L901.8 345" fill="none" stroke="#e6b48e" stroke-width="1.1"/>
<path d="M947.5 70.0 L947.5 230.7 Q947.5 233.7 950.5 233.7 L997.8 233.7 Q1000.8 233.7 1000.8 236.7 L1000.8 331.0" fill="none" stroke="#9479a8" stroke-width="1.1"/>
<rect x="101.7" y="20.4" width="28.0" height="8.8" rx="1.5" fill="#fff" stroke="#4fb3c0" stroke-width="0.9"/>
<path d="M101.7 21.2 L97.1 24.8 L101.7 28.4 Z" fill="#4fb3c0"/>
<path d="M129.7 21.2 L134.3 24.8 L129.7 28.4 Z" fill="#4fb3c0"/>
<text x="115.7" y="27.4" font-size="7.5" fill="#4fb3c0" text-anchor="middle">USB</text>
<rect x="101.1" y="83.4" width="28.2" height="8.8" rx="1.5" fill="#fff" stroke="#f3b67a" stroke-width="0.9"/>
<path d="M129.3 84.2 L133.9 87.8 L129.3 91.4 Z" fill="#ee8a2a"/>
<text x="115.2" y="90.4" font-size="7.5" fill="#ee8a2a" text-anchor="middle">Audio</text>
<rect x="101.5" y="124.4" width="27.5" height="8.8" rx="1.5" fill="#fff" stroke="#4fb3c0" stroke-width="0.9"/>
<path d="M101.5 125.2 L96.9 128.8 L101.5 132.4 Z" fill="#4fb3c0"/>
<path d="M129.0 125.2 L133.6 128.8 L129.0 132.4 Z" fill="#4fb3c0"/>
<text x="115.2" y="131.4" font-size="7.5" fill="#4fb3c0" text-anchor="middle">USB</text>
<rect x="625.4" y="20.6" width="29.6" height="8.8" rx="1.5" fill="#fff" stroke="#1f9a62" stroke-width="0.9"/>
<path d="M625.4 21.4 L620.8 25.0 L625.4 28.6 Z" fill="#1f9a62"/>
<path d="M655.0 21.4 L659.6 25.0 L655.0 28.6 Z" fill="#1f9a62"/>
<text x="640.2" y="27.6" font-size="7.5" fill="#1f9a62" text-anchor="middle">CATx</text>
<rect x="214.6" y="182.0" width="9.4" height="28.0" rx="1.5" fill="#fff" stroke="#f3b67a" stroke-width="0.9"/>
<path d="M215.7 182.0 L219.3 177.2 L222.9 182.0 Z" fill="#ee8a2a"/>
<text transform="translate(221.9 196.0) rotate(-90)" font-size="7.5" fill="#ee8a2a" text-anchor="middle">Audio</text>
<rect x="246.2" y="182.0" width="9.4" height="28.0" rx="1.5" fill="#fff" stroke="#2c9ad6" stroke-width="0.9"/>
<path d="M247.3 182.0 L250.9 177.2 L254.5 182.0 Z" fill="#2c9ad6"/>
<text transform="translate(253.5 196.0) rotate(-90)" font-size="7.5" fill="#2c9ad6" text-anchor="middle">HDMI</text>
<rect x="285.5" y="182.0" width="9.4" height="28.0" rx="1.5" fill="#fff" stroke="#2c9ad6" stroke-width="0.9"/>
<path d="M286.6 182.0 L290.2 177.2 L293.8 182.0 Z" fill="#2c9ad6"/>
<text transform="translate(292.8 196.0) rotate(-90)" font-size="7.5" fill="#2c9ad6" text-anchor="middle">HDMI</text>
<rect x="323.8" y="182.0" width="9.4" height="28.0" rx="1.5" fill="#fff" stroke="#a77cb6" stroke-width="0.9"/>
<path d="M324.9 182.0 L328.5 177.2 L332.1 182.0 Z" fill="#7d3f92"/>
<text transform="translate(331.1 196.0) rotate(-90)" font-size="7.5" fill="#7d3f92" text-anchor="middle">USB-C</text>
<rect x="358.5" y="182.0" width="9.4" height="28.0" rx="1.5" fill="#fff" stroke="#a77cb6" stroke-width="0.9"/>
<path d="M359.6 182.0 L363.2 177.2 L366.8 182.0 Z" fill="#7d3f92"/>
<text transform="translate(365.8 196.0) rotate(-90)" font-size="7.5" fill="#7d3f92" text-anchor="middle">USB-C</text>
<rect x="379.2" y="182.0" width="9.4" height="28.0" rx="1.5" fill="#fff" stroke="#e0357a" stroke-width="0.9"/>
<path d="M380.3 182.0 L383.9 177.2 L387.5 182.0 Z" fill="#e0357a"/>
<text transform="translate(386.5 196.0) rotate(-90)" font-size="7.5" fill="#e0357a" text-anchor="middle">IR</text>
<rect x="394.6" y="182.0" width="9.4" height="28.0" rx="1.5" fill="#fff" stroke="#2c9ad6" stroke-width="0.9"/>
<path d="M395.7 210.0 L399.3 214.8 L402.9 210.0 Z" fill="#2c9ad6"/>
<text transform="translate(401.9 196.0) rotate(-90)" font-size="7.5" fill="#2c9ad6" text-anchor="middle">HDMI</text>
<rect x="447.9" y="182.0" width="9.4" height="28.0" rx="1.5" fill="#fff" stroke="#a9d3bb" stroke-width="0.9"/>
<path d="M449.0 182.0 L452.6 177.2 L456.2 182.0 Z" fill="#a9d3bb"/>
<text transform="translate(455.2 196.0) rotate(-90)" font-size="7.5" fill="#a9d3bb" text-anchor="middle">RS232</text>
<rect x="460.3" y="182.0" width="9.4" height="28.0" rx="1.5" fill="#fff" stroke="#a9d3bb" stroke-width="0.9"/>
<path d="M461.4 182.0 L465.0 177.2 L468.6 182.0 Z" fill="#a9d3bb"/>
<text transform="translate(467.6 196.0) rotate(-90)" font-size="7.5" fill="#a9d3bb" text-anchor="middle">RS232</text>
<rect x="472.1" y="182.0" width="9.4" height="28.0" rx="1.5" fill="#fff" stroke="#6ebfd1" stroke-width="0.9"/>
<path d="M473.2 182.0 L476.8 177.2 L480.4 182.0 Z" fill="#6ebfd1"/>
<path d="M473.2 210.0 L476.8 214.8 L480.4 210.0 Z" fill="#6ebfd1"/>
<text transform="translate(479.4 196.0) rotate(-90)" font-size="7.5" fill="#6ebfd1" text-anchor="middle">USB</text>
<rect x="509.2" y="182.0" width="9.4" height="28.0" rx="1.5" fill="#fff" stroke="#1f9a62" stroke-width="0.9"/>
<path d="M510.3 182.0 L513.9 177.2 L517.5 182.0 Z" fill="#1f9a62"/>
<path d="M510.3 210.0 L513.9 214.8 L517.5 210.0 Z" fill="#1f9a62"/>
<text transform="translate(516.5 196.0) rotate(-90)" font-size="7.5" fill="#1f9a62" text-anchor="middle">CATx</text>
<rect x="529.7" y="182.0" width="9.4" height="28.0" rx="1.5" fill="#fff" stroke="#1f9a62" stroke-width="0.9"/>
<path d="M530.8 182.0 L534.4 177.2 L538.0 182.0 Z" fill="#1f9a62"/>
<path d="M530.8 210.0 L534.4 214.8 L538.0 210.0 Z" fill="#1f9a62"/>
<text transform="translate(537.0 196.0) rotate(-90)" font-size="7.5" fill="#1f9a62" text-anchor="middle">CATx</text>
<rect x="768.7" y="182.0" width="9.4" height="28.0" rx="1.5" fill="#fff" stroke="#1f9a62" stroke-width="0.9"/>
<path d="M769.8 182.0 L773.4 177.2 L777.0 182.0 Z" fill="#1f9a62"/>
<path d="M769.8 210.0 L773.4 214.8 L777.0 210.0 Z" fill="#1f9a62"/>
<text transform="translate(776.0 196.0) rotate(-90)" font-size="7.5" fill="#1f9a62" text-anchor="middle">CATx</text>
<rect x="785.5" y="182.0" width="9.4" height="28.0" rx="1.5" fill="#fff" stroke="#2c9ad6" stroke-width="0.9"/>
<path d="M786.6 210.0 L790.2 214.8 L793.8 210.0 Z" fill="#2c9ad6"/>
<text transform="translate(792.8 196.0) rotate(-90)" font-size="7.5" fill="#2c9ad6" text-anchor="middle">HDMI</text>
<rect x="797.7" y="182.0" width="9.4" height="28.0" rx="1.5" fill="#fff" stroke="#f3b67a" stroke-width="0.9"/>
<path d="M798.8 210.0 L802.4 214.8 L806.0 210.0 Z" fill="#ee8a2a"/>
<text transform="translate(805.0 196.0) rotate(-90)" font-size="7.5" fill="#ee8a2a" text-anchor="middle">Audio</text>
<rect x="870.3" y="182.0" width="9.4" height="28.0" rx="1.5" fill="#fff" stroke="#a9d3bb" stroke-width="0.9"/>
<path d="M871.4 210.0 L875.0 214.8 L878.6 210.0 Z" fill="#a9d3bb"/>
<text transform="translate(877.6 196.0) rotate(-90)" font-size="7.5" fill="#a9d3bb" text-anchor="middle">RS232</text>
<rect x="942.8" y="182.0" width="9.4" height="28.0" rx="1.5" fill="#fff" stroke="#a77cb6" stroke-width="0.9"/>
<path d="M943.9 182.0 L947.5 177.2 L951.1 182.0 Z" fill="#7d3f92"/>
<path d="M943.9 210.0 L947.5 214.8 L951.1 210.0 Z" fill="#7d3f92"/>
<text transform="translate(950.1 196.0) rotate(-90)" font-size="7.5" fill="#7d3f92" text-anchor="middle">USB-C</text>
<text x="35.7" y="53.0" font-size="7.6" letter-spacing="0.00" fill="#666" text-anchor="middle">USB Speakerphone</text>
<text x="35.6" y="102.8" font-size="7.6" letter-spacing="0.00" fill="#666" text-anchor="middle">MIC</text>
<text x="35.9" y="191.7" font-size="7.6" letter-spacing="0.00" fill="#666" text-anchor="middle">PC</text>
<text x="36.0" y="253.0" font-size="7.6" letter-spacing="0.00" fill="#666" text-anchor="middle">Laptop</text>
<text x="36.0" y="316.7" font-size="7.6" letter-spacing="0.00" fill="#666" text-anchor="middle">Laptop</text>
<text x="36.0" y="380.5" font-size="7.6" letter-spacing="0.00" fill="#666" text-anchor="middle">Laptop</text>
<text x="189.0" y="333.7" font-size="7.6" letter-spacing="0.00" fill="#666" text-anchor="middle">IR</text>
<text x="189.0" y="341.0" font-size="7.6" letter-spacing="0.00" fill="#666" text-anchor="middle">Recevier</text>
<text x="188.3" y="408.2" font-size="7.6" letter-spacing="0.00" fill="#666" text-anchor="middle">Remote</text>
<text x="268.9" y="380.9" font-size="7.6" letter-spacing="0.00" fill="#666" text-anchor="middle">Multiview Display</text>
<text x="383.4" y="381.2" font-size="7.6" letter-spacing="0.00" fill="#666" text-anchor="middle">Control Processor</text>
<text x="456.0" y="381.2" font-size="7.6" letter-spacing="0.00" fill="#666" text-anchor="middle">USB Flash Disk</text>
<text x="525.2" y="381.2" font-size="7.6" letter-spacing="0.00" fill="#666" text-anchor="middle">Wireless Router</text>
<text x="598.2" y="381.2" font-size="7.6" letter-spacing="0.00" fill="#666" text-anchor="middle">iPad</text>
<text x="711.9" y="379.8" font-size="7.6" letter-spacing="0.00" fill="#666" text-anchor="middle">Laptop</text>
<text x="800.2" y="379.8" font-size="7.6" letter-spacing="0.00" fill="#666" text-anchor="middle">Projector</text>
<text x="905.0" y="379.8" font-size="7.6" letter-spacing="0.00" fill="#666" text-anchor="middle">Amplifier</text>
<text x="1000.6" y="379.8" font-size="7.6" letter-spacing="0.00" fill="#666" text-anchor="middle">USB Camera</text>
</svg></body></html>
